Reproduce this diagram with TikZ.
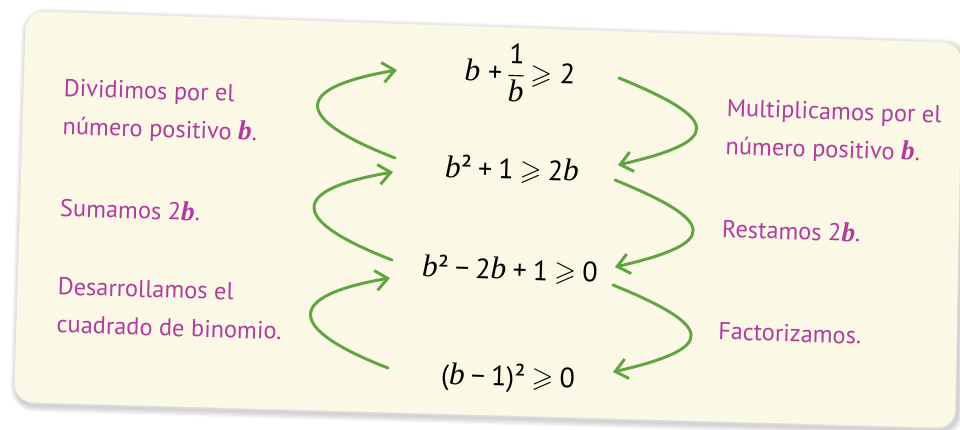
\documentclass[tikz,border=0pt]{standalone}
\usepackage{amsmath}
\usepackage{amssymb}
\usepackage{fontspec}
\setmainfont{PT Sans}
\newfontfamily\varfont{Liberation Serif}[Scale=1.12]
\usetikzlibrary{arrows.meta}
\definecolor{cardfill}{HTML}{FBF8E6}
\definecolor{stepmagenta}{HTML}{B03C9E}
\definecolor{arrowgreen}{HTML}{5FA541}
\newcommand{\vb}{{\varfont\itshape b}}
\newcommand{\vbb}{{\varfont\itshape\bfseries b}}

\begin{document}
\begin{tikzpicture}[x=0.75pt,y=-0.75pt,>={Straight Barb[length=9pt,width=15pt]},line join=round,line cap=round]
	\tikzset{
		steptext/.style={text=stepmagenta,font=\fontsize{18.3}{28.5}\selectfont,align=left,anchor=west,rotate=-1.8,inner sep=0pt},
		eqtext/.style={font=\fontsize{21}{25}\selectfont,rotate=-1.8,inner sep=0pt},
		turn/.style={->,draw=arrowgreen,line width=2.2pt}
	}
	\useasboundingbox (0,0) rectangle (960,429);
	% card with soft shadow
	\begin{scope}[shift={(2,3)}]
		\foreach \k in {1,...,6}{
			\draw [line width=\k*1.6pt,opacity=0.03,rounded corners=14] (26,11)--(962,43)--(955,428)--(14,402)--cycle;
		}
	\end{scope}
	\fill [cardfill,rounded corners=14] (26,11)--(962,43)--(955,428)--(14,402)--cycle;
	% the chain of inequalities
	\node [eqtext] (e1) at (520,73) {\vb\;+\,$\dfrac{\mbox{1}}{\mbox{\vb}}$\,$\geqslant$\;2};
	\node [eqtext] (e2) at (512,170) {\vb²\:+\:1\:$\geqslant$\:2\vb};
	\node [eqtext] (e3) at (510,270) {\vb²\:−\:2\vb\:+\:1\:$\geqslant$\:0};
	\node [eqtext] (e4) at (508,378) {(\vb\:−\:1)²\:$\geqslant$\:0};
	% what is done at each step
	\node [steptext] (up1) at (63,109) {Dividimos por el\\número positivo \vbb.};
	\node [steptext] (up2) at (60,207) {Sumamos 2\vbb.};
	\node [steptext] (up3) at (57,305) {Desarrollamos el\\cuadrado de binomio.};
	\node [steptext] (down1) at (726,129) {Multiplicamos por el\\número positivo \vbb.};
	\node [steptext] (down2) at (722,228) {Restamos 2\vbb.};
	\node [steptext] (down3) at (718,331) {Factorizamos.};
	% ends of the green arrows
	\coordinate (l1s) at (395,158); \coordinate (l1e) at (397,70);
	\coordinate (l2s) at (392,260); \coordinate (l2e) at (393,172);
	\coordinate (l3s) at (388,368); \coordinate (l3e) at (390,278);
	\coordinate (r1s) at (619,78); \coordinate (r1e) at (618,165);
	\coordinate (r2s) at (615,180); \coordinate (r2e) at (615,267);
	\coordinate (r3s) at (613,285); \coordinate (r3e) at (613,372);
	\foreach \a in {1,2,3}{
		\draw [turn] (l\a s) .. controls +(-103,-40) and +(-105,18) .. (l\a e);
		\draw [turn] (r\a s) .. controls +(103,42) and +(104,-24) .. (r\a e);
	}
\end{tikzpicture}
\end{document}
